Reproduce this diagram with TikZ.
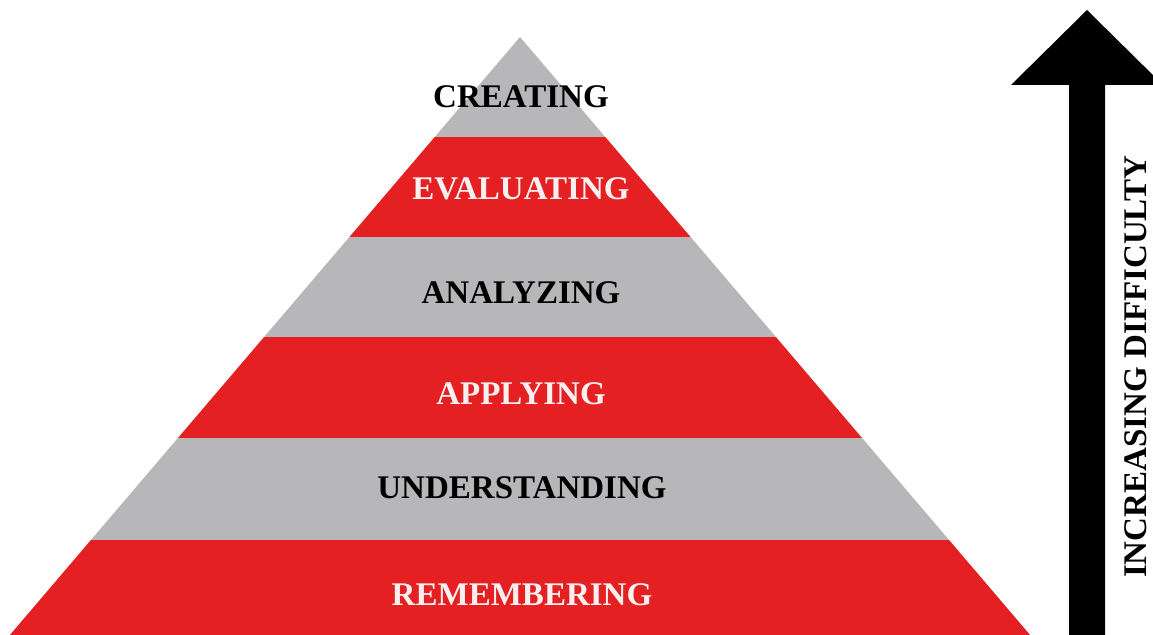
\documentclass[tikz,border=0pt]{standalone}
\usepackage{fontspec}
\setmainfont{Liberation Serif}
\definecolor{pyrgrey}{RGB}{183,183,185}
\definecolor{pyrred}{RGB}{228,32,34}
\definecolor{pyrwhite}{RGB}{248,240,240}

\begin{document}
\begin{tikzpicture}[
	x=0.02cm, y=-0.02cm,
	darktier/.style={font=\fontsize{18.8}{21}\selectfont\bfseries, text=black, inner sep=0pt},
	lighttier/.style={font=\fontsize{18.8}{21}\selectfont\bfseries, text=pyrwhite, inner sep=0pt}
	]
	
	\useasboundingbox (0,0) rectangle (1153,635);
	
	%-----------------------
	% Pyramid outline
	%-----------------------
	\coordinate (apex)  at (520,37);
	\coordinate (baseL) at (9.9,635);
	\coordinate (baseR) at (1030.1,635);
	
	%-----------------------
	% Bands (clipped to the pyramid)
	%-----------------------
	\begin{scope}
		\clip (apex) -- (baseL) -- (baseR) -- cycle;
		\foreach \ya/\yb/\col in {30/137/pyrgrey, 137/237/pyrred, 237/337/pyrgrey,
			337/438/pyrred, 438/540/pyrgrey, 540/640/pyrred}
		\fill[\col] (0,\ya) rectangle (1153,\yb);
	\end{scope}
	
	%-----------------------
	% Band labels
	%-----------------------
	\node[darktier]  (creating)      at (521,97)  {CREATING};
	\node[lighttier] (evaluating)    at (521,189) {EVALUATING};
	\node[darktier]  (analyzing)     at (521,293) {ANALYZING};
	\node[lighttier] (applying)      at (521,394) {APPLYING};
	\node[darktier]  (understanding) at (522,488) {UNDERSTANDING};
	\node[lighttier] (remembering)   at (522,595) {REMEMBERING};
	
	%-----------------------
	% Difficulty arrow
	%-----------------------
	\fill[black] (1069,640) -- (1069,85) -- (1011,85) -- (1087,10)
		-- (1163,85) -- (1105,85) -- (1105,640) -- cycle;
	\node[darktier, rotate=90] (difficulty) at (1136,367) {INCREASING DIFFICULTY};
	
\end{tikzpicture}
\end{document}
